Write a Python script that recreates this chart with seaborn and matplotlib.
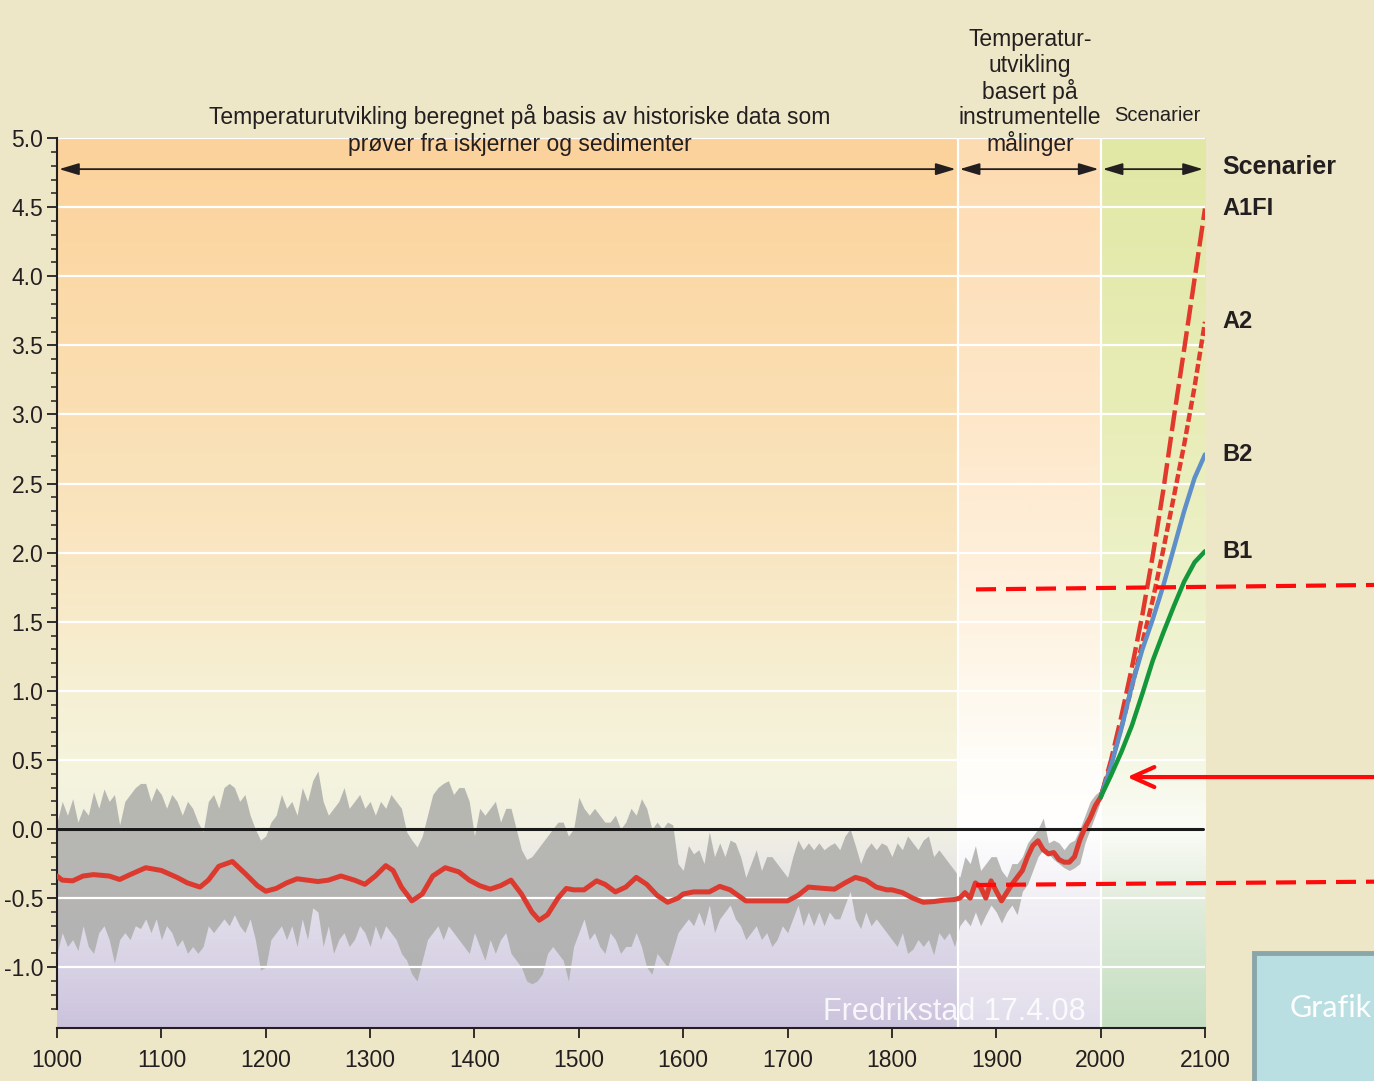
import numpy as np
import pandas as pd
import matplotlib
matplotlib.use('Agg')
import matplotlib.pyplot as plt
import matplotlib.patches as mpatches
from matplotlib.colors import to_rgb
import seaborn as sns

# ---------------- data ----------------
# gray uncertainty band, every 5 years 1000-2000
band_years = list(range(1000, 2001, 5))
band_upper = [
    0.05, 0.2, 0.1, 0.22, 0.05, 0.15, 0.1, 0.27, 0.15, 0.29,
    0.2, 0.25, 0.03, 0.2, 0.25, 0.3, 0.33, 0.33, 0.2, 0.3,
    0.25, 0.15, 0.25, 0.2, 0.1, 0.2, 0.15, 0.05, -0.02, 0.2,
    0.25, 0.15, 0.3, 0.33, 0.3, 0.2, 0.25, 0.1, 0.0, -0.08,
    -0.05, 0.05, 0.1, 0.25, 0.15, 0.2, 0.1, 0.3, 0.2, 0.35,
    0.42, 0.2, 0.1, 0.15, 0.2, 0.3, 0.15, 0.2, 0.25, 0.15,
    0.2, 0.1, 0.2, 0.15, 0.25, 0.2, 0.15, -0.02, -0.08, -0.13,
    -0.05, 0.1, 0.25, 0.3, 0.33, 0.35, 0.25, 0.3, 0.3, 0.2,
    -0.05, 0.15, 0.1, 0.15, 0.2, 0.05, 0.15, 0.15, 0.0, -0.15,
    -0.22, -0.2, -0.15, -0.1, -0.05, 0.0, 0.05, 0.05, -0.05, 0.0,
    0.23, 0.15, 0.1, 0.15, 0.1, 0.05, 0.05, 0.1, 0.0, 0.05,
    0.15, 0.1, 0.22, 0.15, 0.0, 0.05, 0.0, 0.05, 0.03, -0.25,
    -0.3, -0.12, -0.18, -0.15, -0.25, -0.02, -0.2, -0.1, -0.2, -0.08,
    -0.1, -0.2, -0.35, -0.25, -0.15, -0.3, -0.2, -0.2, -0.25, -0.3,
    -0.35, -0.2, -0.08, -0.15, -0.1, -0.15, -0.1, -0.15, -0.12, -0.1,
    -0.15, -0.05, 0.0, -0.12, -0.25, -0.15, -0.1, -0.15, -0.1, -0.12,
    -0.2, -0.1, -0.15, -0.05, -0.1, -0.15, -0.08, -0.05, -0.2, -0.15,
    -0.2, -0.25, -0.3, -0.35, -0.2, -0.25, -0.12, -0.3, -0.25, -0.2,
    -0.2, -0.3, -0.35, -0.25, -0.25, -0.2, -0.1, -0.05, 0.0, 0.08,
    -0.1, -0.08, -0.1, -0.15, -0.1, -0.08, 0.0, 0.1, 0.2, 0.25,
    0.28,
]
band_lower = [
    -0.9, -0.75, -0.85, -0.8, -0.88, -0.7, -0.85, -0.9, -0.75, -0.7,
    -0.8, -0.97, -0.8, -0.75, -0.8, -0.7, -0.72, -0.65, -0.75, -0.65,
    -0.8, -0.7, -0.75, -0.85, -0.8, -0.9, -0.85, -0.9, -0.85, -0.7,
    -0.75, -0.7, -0.65, -0.7, -0.62, -0.7, -0.75, -0.65, -0.8, -1.02,
    -1.0, -0.8, -0.75, -0.7, -0.8, -0.7, -0.85, -0.65, -0.8, -0.57,
    -0.6, -0.85, -0.7, -0.9, -0.8, -0.75, -0.85, -0.8, -0.7, -0.75,
    -0.85, -0.7, -0.8, -0.7, -0.75, -0.8, -0.9, -0.95, -1.05, -1.1,
    -0.95, -0.8, -0.75, -0.7, -0.8, -0.7, -0.75, -0.8, -0.85, -0.9,
    -0.75, -0.85, -0.95, -0.8, -0.9, -0.8, -0.75, -0.9, -0.95, -1.0,
    -1.1, -1.12, -1.1, -1.05, -0.9, -0.85, -0.9, -0.95, -1.1, -0.85,
    -0.75, -0.65, -0.8, -0.75, -0.85, -0.9, -0.75, -0.8, -0.9, -0.85,
    -0.85, -0.75, -0.85, -1.0, -1.05, -0.9, -0.95, -1.0, -0.88, -0.75,
    -0.7, -0.65, -0.7, -0.6, -0.7, -0.55, -0.75, -0.65, -0.6, -0.55,
    -0.65, -0.7, -0.8, -0.75, -0.7, -0.8, -0.75, -0.85, -0.8, -0.7,
    -0.75, -0.65, -0.55, -0.7, -0.6, -0.7, -0.6, -0.7, -0.6, -0.65,
    -0.65, -0.55, -0.45, -0.65, -0.72, -0.6, -0.7, -0.65, -0.7, -0.75,
    -0.8, -0.85, -0.75, -0.9, -0.87, -0.8, -0.85, -0.8, -0.91, -0.75,
    -0.8, -0.75, -0.85, -0.7, -0.65, -0.7, -0.6, -0.7, -0.62, -0.55,
    -0.6, -0.68, -0.6, -0.55, -0.62, -0.45, -0.4, -0.3, -0.2, -0.15,
    -0.18, -0.22, -0.25, -0.28, -0.3, -0.28, -0.25, -0.1, 0.0, 0.1,
    0.2,
]

# smoothed reconstruction + instrumental record (red curve)
red_years = [
    1000, 1005, 1015, 1025, 1035, 1050, 1060, 1070, 1085, 1100,
    1115, 1125, 1137, 1145, 1155, 1168, 1180, 1192, 1200, 1210,
    1220, 1230, 1240, 1250, 1260, 1272, 1285, 1295, 1305, 1315,
    1322, 1330, 1340, 1350, 1360, 1372, 1385, 1395, 1405, 1415,
    1425, 1435, 1445, 1455, 1462, 1470, 1480, 1488, 1495, 1505,
    1517, 1525, 1535, 1545, 1555, 1565, 1575, 1585, 1595, 1600,
    1610, 1625, 1635, 1645, 1660, 1670, 1690, 1700, 1710, 1720,
    1735, 1745, 1755, 1765, 1775, 1785, 1795, 1800, 1810, 1820,
    1830, 1840, 1850, 1860, 1865, 1870, 1875, 1880, 1885, 1890,
    1895, 1900, 1905, 1910, 1915, 1920, 1925, 1930, 1935, 1940,
    1945, 1950, 1955, 1960, 1965, 1970, 1975, 1980, 1985, 1990,
    1995, 2000,
]
red_temp = [
    -0.34, -0.37, -0.375, -0.34, -0.33, -0.34, -0.365, -0.33, -0.28, -0.30,
    -0.35, -0.39, -0.42, -0.37, -0.27, -0.235, -0.32, -0.41, -0.45, -0.43,
    -0.39, -0.36, -0.37, -0.38, -0.37, -0.34, -0.37, -0.40, -0.34, -0.265,
    -0.30, -0.42, -0.52, -0.47, -0.34, -0.28, -0.31, -0.37, -0.41, -0.435,
    -0.41, -0.37, -0.47, -0.60, -0.66, -0.62, -0.50, -0.43, -0.44, -0.44,
    -0.375, -0.40, -0.455, -0.42, -0.35, -0.40, -0.48, -0.53, -0.50, -0.47,
    -0.455, -0.455, -0.415, -0.44, -0.52, -0.52, -0.52, -0.52, -0.48, -0.42,
    -0.43, -0.435, -0.39, -0.35, -0.37, -0.42, -0.44, -0.44, -0.46, -0.50,
    -0.53, -0.525, -0.515, -0.51, -0.50, -0.46, -0.50, -0.39, -0.42, -0.50,
    -0.375, -0.45, -0.52, -0.46, -0.40, -0.35, -0.30, -0.20, -0.12, -0.085,
    -0.15, -0.18, -0.17, -0.22, -0.24, -0.24, -0.20, -0.08, 0.01, 0.08,
    0.17, 0.23,
]

# emission scenarios 2000-2100
scen_years = list(range(2000, 2101, 10))
a1fi = [0.23, 0.5, 0.82, 1.17, 1.55, 1.98, 2.45, 2.97, 3.47, 3.98, 4.49]
a2 = [0.23, 0.47, 0.74, 1.03, 1.35, 1.66, 2.02, 2.4, 2.78, 3.2, 3.67]
b2 = [0.23, 0.46, 0.73, 1.04, 1.3, 1.52, 1.76, 2.03, 2.3, 2.54, 2.71]
b1 = [0.23, 0.39, 0.56, 0.75, 0.98, 1.22, 1.42, 1.61, 1.79, 1.93, 2.01]
scen_names = ['A1FI', 'A2', 'B2', 'B1']

# periods (historic / instrumental / scenarios)
period_edges = [1000, 1863, 2000, 2100]
period_arrow_level = 4.775

# red marker lines drawn on top of the slide
marker_years = [1880.6, 2262]
marker_upper = [1.734, 1.766]
marker_lower = [-0.405, -0.381]
arrow_level = 0.376
arrow_tip_year = 2025.3

y_major = [-1.0, -0.5, 0.0, 0.5, 1.0, 1.5, 2.0, 2.5, 3.0, 3.5, 4.0, 4.5, 5.0]
x_ticks = list(range(1000, 2101, 100))

# ---------------- style ----------------
sns.set_style('ticks')
plt.rcParams['font.family'] = ['Liberation Sans', 'DejaVu Sans']
plt.rcParams['axes.unicode_minus'] = False
TXT = '#231F20'
YLIM = (-1.44, 5.0)

hist_stops = [(-1.44, '#CBC3DD'), (-1.0, '#D8D2E5'), (-0.5, '#E4E1EA'), (0.0, '#F1F0E2'),
              (0.4, '#F5F4DE'), (1.0, '#F6F0D4'), (2.0, '#F9E6C2'), (3.5, '#FBDCAD'), (5.0, '#FCD29B')]
instr_stops = [(-1.44, '#E2DDEB'), (-1.0, '#EAE6F0'), (-0.5, '#F2F0F5'), (0.0, '#FFFFFF'),
               (0.5, '#FFFDF8'), (1.5, '#FEF3E2'), (3.0, '#FEE7C9'), (5.0, '#FDDBB0')]
scen_stops = [(-1.44, '#C4DEC1'), (-1.0, '#D2E5CD'), (-0.5, '#E3EDDD'), (0.0, '#FBFCF7'),
              (0.5, '#F5F7E4'), (1.5, '#EEF2CD'), (3.0, '#E8EDB7'), (5.0, '#E1E8A5')]


def gradient(ax, x0, x1, stops):
    vals = [v for v, c in stops]
    cols = np.array([to_rgb(c) for v, c in stops])
    ys = np.linspace(YLIM[0], YLIM[1], 500)
    img = np.stack([np.interp(ys, vals, cols[:, k]) for k in range(3)], axis=-1)[:, None, :]
    ax.imshow(img, extent=(x0, x1, YLIM[0], YLIM[1]), origin='lower',
              aspect='auto', interpolation='bilinear', zorder=0)


fig = plt.figure(figsize=(13.74, 10.81), dpi=100, facecolor='#EDE7C7')
ax = fig.add_axes([0.0415, 0.049, 0.8355, 0.8233])
ax.set_facecolor('none')

for (x0, x1), stops in zip(zip(period_edges[:-1], period_edges[1:]),
                           [hist_stops, instr_stops, scen_stops]):
    gradient(ax, x0, x1, stops)

# gray band
ax.fill_between(band_years, band_lower, band_upper, color='#ADADAA', alpha=0.85,
                lw=0, zorder=1)

# white grid + period separators
for v in y_major:
    ax.axhline(v, color='white', lw=1.6, zorder=2)
for x in period_edges[1:-1]:
    ax.axvline(x, color='white', lw=1.6, zorder=2)
ax.axhline(0, xmax=0.998, color='#1A1A1A', lw=2.2, zorder=3)

# red reconstructed curve
sns.lineplot(x=red_years, y=red_temp, color='#DC3A2F', lw=3.6, ax=ax, zorder=4,
             solid_joinstyle='round', solid_capstyle='round')

# scenarios
scen = pd.DataFrame({
    'year': scen_years * 4,
    'temp': a1fi + a2 + b2 + b1,
    'scenario': np.repeat(scen_names, len(scen_years)),
})
sns.lineplot(data=scen, x='year', y='temp', hue='scenario', style='scenario',
             hue_order=scen_names, style_order=scen_names,
             palette={'A1FI': '#E2392D', 'A2': '#E2392D', 'B2': '#5E8FC9', 'B1': '#14973A'},
             dashes={'A1FI': (4.7, 1.3), 'A2': (2.0, 0.8), 'B2': '', 'B1': ''},
             lw=3.2, legend=False, ax=ax, zorder=4)

for name, vals in zip(scen_names, [a1fi, a2, b2, b1]):
    ax.text(2116.3, vals[-1], name, fontsize=17, fontweight='bold', color=TXT,
            va='center', ha='left', clip_on=False)
ax.text(2116.3, 4.79, 'Scenarier', fontsize=18, fontweight='bold', color=TXT,
        va='center', ha='left', clip_on=False)

# period arrows and captions
for a, b in zip(period_edges[:-1], period_edges[1:]):
    ax.annotate('', xy=(b, period_arrow_level), xytext=(a, period_arrow_level),
                arrowprops=dict(arrowstyle='<|-|>,head_length=0.6,head_width=0.18',
                                color=TXT, lw=1.3, mutation_scale=20,
                                shrinkA=1.5, shrinkB=1.5),
                annotation_clip=False)
ax.text(1443.7, 5.058, 'Temperaturutvikling beregnet på basis av historiske data som\n'
        'prøver fra iskjerner og sedimenter', ha='center', va='center',
        fontsize=16.5, color=TXT, linespacing=1.2, clip_on=False)
ax.text(1932.4, 5.33, 'Temperatur-\nutvikling\nbasert på\ninstrumentelle\nmålinger',
        ha='center', va='center', fontsize=16.5, color=TXT, linespacing=1.12, clip_on=False)
ax.text(2054, 5.16, 'Scenarier', ha='center', va='center', fontsize=14.5, color=TXT,
        clip_on=False)

# axes
ax.set_xlim(period_edges[0], period_edges[-1])
ax.set_ylim(*YLIM)
ax.set_xticks(x_ticks)
ax.set_xticklabels([str(x) for x in x_ticks])
ax.set_yticks(y_major)
ax.set_yticklabels([f'{v:.1f}' for v in y_major])
ax.set_yticks([v / 10 for v in range(-13, 51) if v % 5 != 0], minor=True)
ax.set_xlabel('')
ax.set_ylabel('')
ax.grid(False)
ax.tick_params(axis='y', which='major', length=7, width=1.3, pad=3, labelsize=16.5,
               colors=TXT)
ax.tick_params(axis='y', which='minor', length=4.5, width=1.1, colors=TXT)
ax.tick_params(axis='x', which='major', length=7, width=1.3, pad=8, labelsize=16.5,
               colors=TXT)
for side in ['top', 'right']:
    ax.spines[side].set_visible(False)
ax.spines['left'].set_bounds(-1.3, 5.0)
ax.spines['left'].set_linewidth(1.5)
ax.spines['bottom'].set_linewidth(1.5)
ax.spines['left'].set_color(TXT)
ax.spines['bottom'].set_color(TXT)

# slide overlays
ax.plot(marker_years, marker_upper, color='#FF0A0A', lw=3, dashes=(4.8, 2.4),
        clip_on=False, zorder=8)
ax.plot(marker_years, marker_lower, color='#FF0A0A', lw=3, dashes=(4.8, 2.4),
        clip_on=False, zorder=8)
ax.annotate('', xy=(arrow_tip_year, arrow_level), xytext=(marker_years[-1], arrow_level),
            arrowprops=dict(arrowstyle='->,head_length=0.8,head_width=0.36',
                            color='#FF0A0A', lw=3, mutation_scale=20,
                            shrinkA=0, shrinkB=0),
            annotation_clip=False, zorder=8)
ax.text(1734, -1.38, 'Fredrikstad 17.4.08', color='white', alpha=0.85, fontsize=22,
        va='baseline', ha='left', zorder=7, clip_on=False)

fig.add_artist(mpatches.Rectangle((0.9127, -0.02), 0.12, 0.1384, transform=fig.transFigure,
                                  facecolor='#B9DFE2', edgecolor='#8BA6A8', lw=3.5))
fig.text(0.9389, 0.0675, 'Grafik', color='white', fontsize=22,
         family=['Lato', 'DejaVu Sans'], va='center', ha='left')

fig.savefig('out.png', dpi=100, facecolor=fig.get_facecolor())
